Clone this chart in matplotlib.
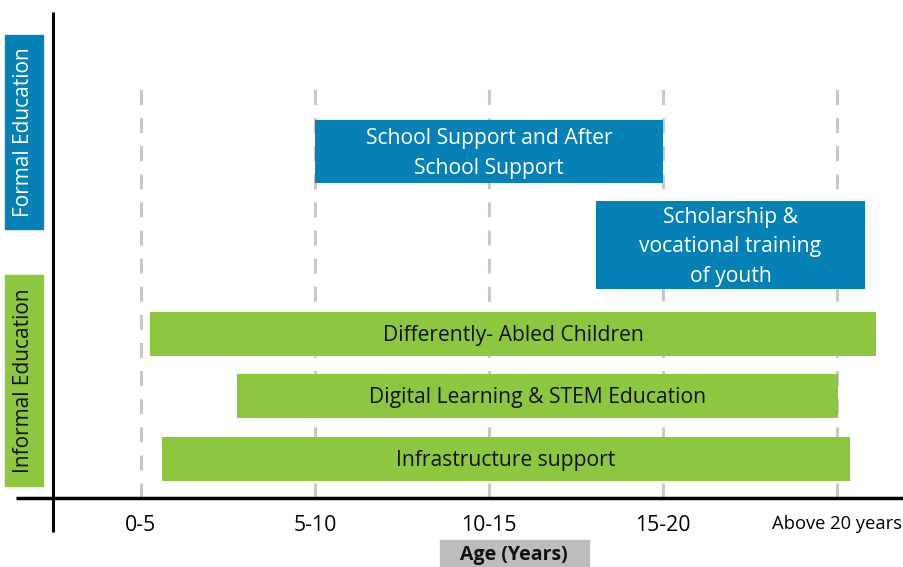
import matplotlib.pyplot as plt
from matplotlib.patches import Rectangle

plt.rcParams['font.family'] = ['Open Sans', 'DejaVu Sans']

# age groups on the x axis
age_groups = ["0-5", "5-10", "10-15", "15-20", "Above 20 years"]

# programmes: start / end in age-group units (0 = "0-5" tick)
programmes = ["School Support and After\nSchool Support",
              "Scholarship &\nvocational training\nof youth",
              "Differently- Abled Children",
              "Digital Learning & STEM Education",
              "Infrastructure support"]
starts = [1.0, 2.615, 0.052, 0.552, 0.121]
ends = [3.0, 4.161, 4.224, 4.006, 4.075]
kind = ["formal", "formal", "informal", "informal", "informal"]

# layout (row centre / height, in pixel rows from the top)
row_y = [151.5, 245, 334, 396, 459]
row_h = [63, 88, 44, 44, 44]

BLUE = "#0681B5"
GREEN = "#8DC63F"
GRAY = "#C8C8C8"

fig = plt.figure(figsize=(9.04, 5.67), dpi=100)
ax = fig.add_axes([53 / 904, 1 - 498 / 567, 851 / 904, 486 / 567])
ax.set_xlim((53 - 141) / 174, (904 - 141) / 174)
ax.set_ylim(498, 12)
for s in ax.spines.values():
    s.set_visible(False)

# dashed guide lines at each age group
ax.vlines(range(len(age_groups)), 498, 84, colors=GRAY, linewidth=2.2,
          linestyles=(0, (4.9, 4.3)), zorder=1)

# bars
for i, name in enumerate(programmes):
    col = BLUE if kind[i] == "formal" else GREEN
    tcol = "white" if kind[i] == "formal" else "#111111"
    ax.barh(row_y[i], ends[i] - starts[i], left=starts[i], height=row_h[i],
            color=col, zorder=2)
    ax.text((starts[i] + ends[i]) / 2, row_y[i] + 2, name, ha="center",
            va="center", color=tcol, fontsize=15.2, linespacing=1.55, zorder=3)

# axis lines
ax.plot([0, 0], [0, -34 / 486], transform=ax.transAxes, color="black",
        lw=2.2, clip_on=False, solid_capstyle="butt")
ax.plot([0, 0], [0, 1], transform=ax.transAxes, color="black", lw=2.2,
        clip_on=False, solid_capstyle="butt")
ax.plot([-37 / 851, 1], [0, 0], transform=ax.transAxes, color="black",
        lw=2.5, clip_on=False, solid_capstyle="butt")

ax.set_xticks(range(len(age_groups)))
ax.set_xticklabels(age_groups, fontsize=15.3)
ax.get_xticklabels()[-1].set_fontsize(13.2)
ax.tick_params(axis="x", length=0, pad=12)
ax.set_yticks([])

# left side group labels
fig.patches.append(Rectangle((5 / 904, 1 - 229 / 567), 38 / 904, 194 / 567,
                             transform=fig.transFigure, color=BLUE))
fig.patches.append(Rectangle((5 / 904, 1 - 486 / 567), 38 / 904, 211 / 567,
                             transform=fig.transFigure, color=GREEN))
fig.text(24 / 904, 1 - 132 / 567, "Formal Education", rotation=90,
         ha="center", va="center", color="white", fontsize=15)
fig.text(24 / 904, 1 - 380.5 / 567, "Informal Education", rotation=90,
         ha="center", va="center", color="#111111", fontsize=15)

# x axis title
fig.patches.append(Rectangle((440 / 904, 0), 149 / 904, 27 / 567,
                             transform=fig.transFigure, color="#BDBDBE"))
fig.text(514 / 904, 1 - 555 / 567, "Age (Years)", ha="center", va="center",
         fontsize=14, fontweight="bold", color="#111111")

fig.savefig("out.png", dpi=100)
